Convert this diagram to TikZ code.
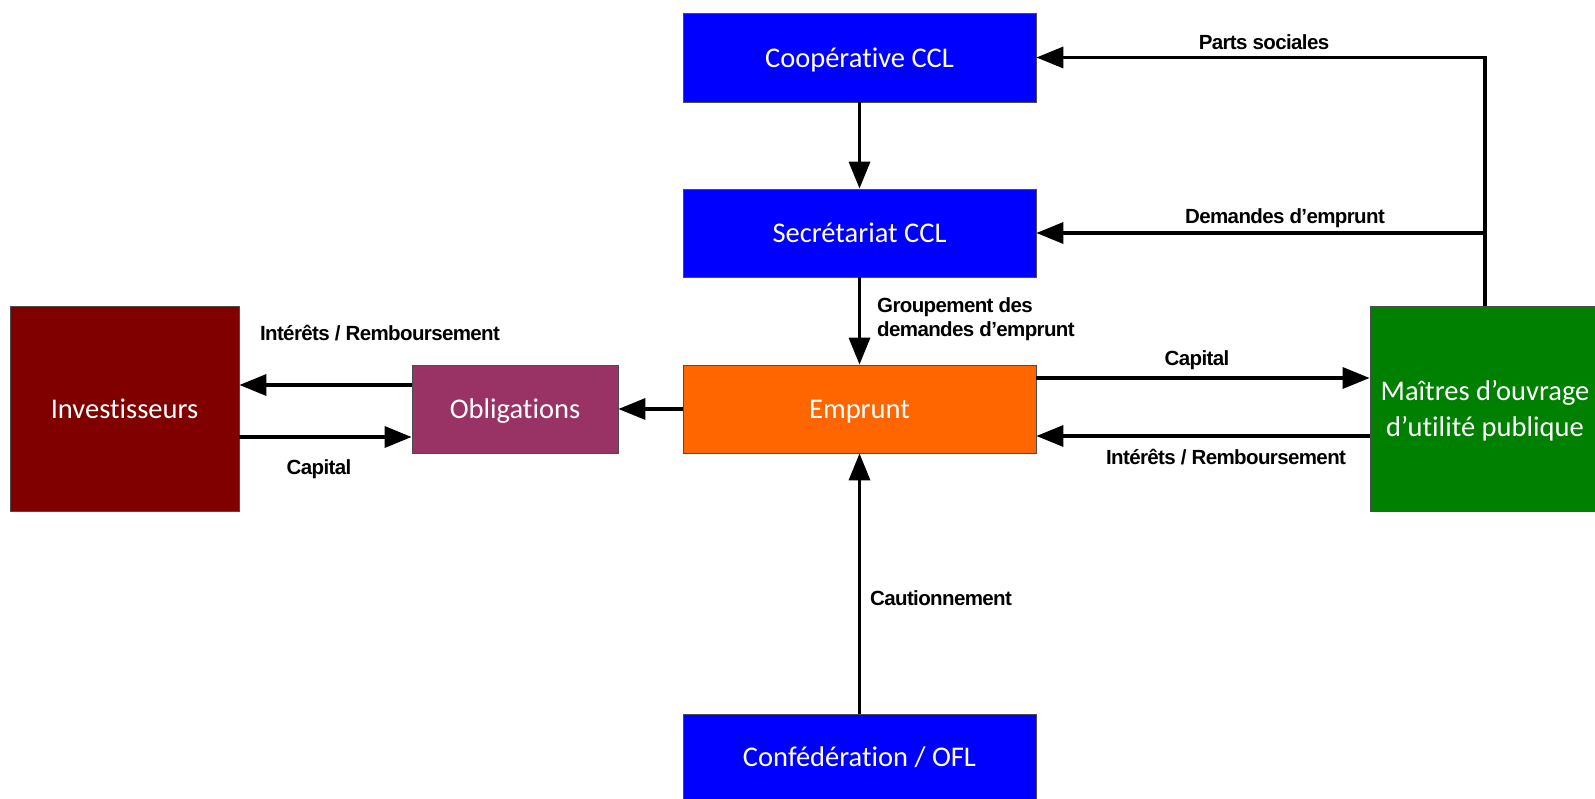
\documentclass[tikz,border=0pt]{standalone}
\usepackage{fontspec}
\usetikzlibrary{arrows.meta,calc}
\newfontfamily\boxfont[Ligatures=NoCommon]{Carlito}
\newfontfamily\labfont[LetterSpace=-3]{Liberation Sans}
\definecolor{cblue}{HTML}{0000FF}
\definecolor{corange}{HTML}{FF6600}
\definecolor{cpurple}{HTML}{993366}
\definecolor{cred}{HTML}{800000}
\definecolor{cgreen}{HTML}{008000}
\tikzset{
  box/.style={draw=black!70, line width=0.8pt, inner sep=0pt, text=white, text depth=0pt,
    font=\boxfont\fontsize{28.5}{36.6}\selectfont, align=center},
  arr/.style={line width=3.5pt, -{Triangle[length=27pt,width=21pt]}},
  ln/.style={line width=3.5pt},
  lab/.style={font=\labfont\bfseries\fontsize{20.5}{24.4}\selectfont, inner sep=0pt, text=black}
}
\begin{document}
\begin{tikzpicture}[x=1pt,y=-1pt]
\useasboundingbox[fill=white] (0,0) rectangle (1595,799);
% boxes
\node[box, fill=cblue, minimum width=353pt, minimum height=89pt] (coop) at (859.5,57.5) {Coopérative CCL};
\node[box, fill=cblue, minimum width=353pt, minimum height=88pt] (sec) at (859.5,233) {Secrétariat CCL};
\node[box, fill=corange, minimum width=353pt, minimum height=88pt] (emp) at (859.5,409) {Emprunt};
\node[box, fill=cblue, minimum width=353pt, minimum height=86pt] (conf) at (859.5,757) {Confédération / OFL};
\node[box, fill=cpurple, minimum width=206pt, minimum height=88pt] (obl) at (515,409) {Obligations};
\node[box, fill=cred, minimum width=229pt, minimum height=205pt] (inv) at (124.5,408.5) {Investisseurs};
\node[box, fill=cgreen, minimum width=230pt, minimum height=205pt] (mai) at (1485,408.5) {Maîtres d’ouvrage\\d’utilité publique};
% connectors
\draw[arr] (coop.south) -- (sec.north);
\draw[arr] (sec.south) -- (emp.north);
\draw[arr] (conf.north) -- (emp.south);
\draw[arr] (emp.west) -- (obl.west -| obl.east);
\draw[arr] ($(emp.east)+(0,-31)$) coordinate (c1) -- (c1 -| mai.west);
\draw[arr] ($(mai.west)+(0,27.5)$) coordinate (c2) -- (c2 -| emp.east);
\draw[arr] ($(obl.west)+(0,-24)$) coordinate (c3) -- (c3 -| inv.east);
\draw[arr] ($(inv.east)+(0,28.5)$) coordinate (c4) -- (c4 -| obl.west);
\draw[arr] (mai.north) |- (coop.east);
\draw[arr] (mai.north |- sec.east) coordinate (c5) -- (sec.east);
% labels
\node[lab] (lps) at (1264,42) {Parts sociales};
\node[lab] (ldem) at (1285,218) {Demandes d’emprunt};
\node[lab, anchor=west, align=left] (lgrp) at (877,319.5) {Groupement des\\demandes d’emprunt};
\node[lab] (lint1) at (380,333) {Intérêts / Remboursement};
\node[lab] (lcap1) at (319,469) {Capital};
\node[lab] (lcap2) at (1197,360) {Capital};
\node[lab] (lint2) at (1226,457) {Intérêts / Remboursement};
\node[lab] (lcaut) at (941,598) {Cautionnement};
\end{tikzpicture}
\end{document}
